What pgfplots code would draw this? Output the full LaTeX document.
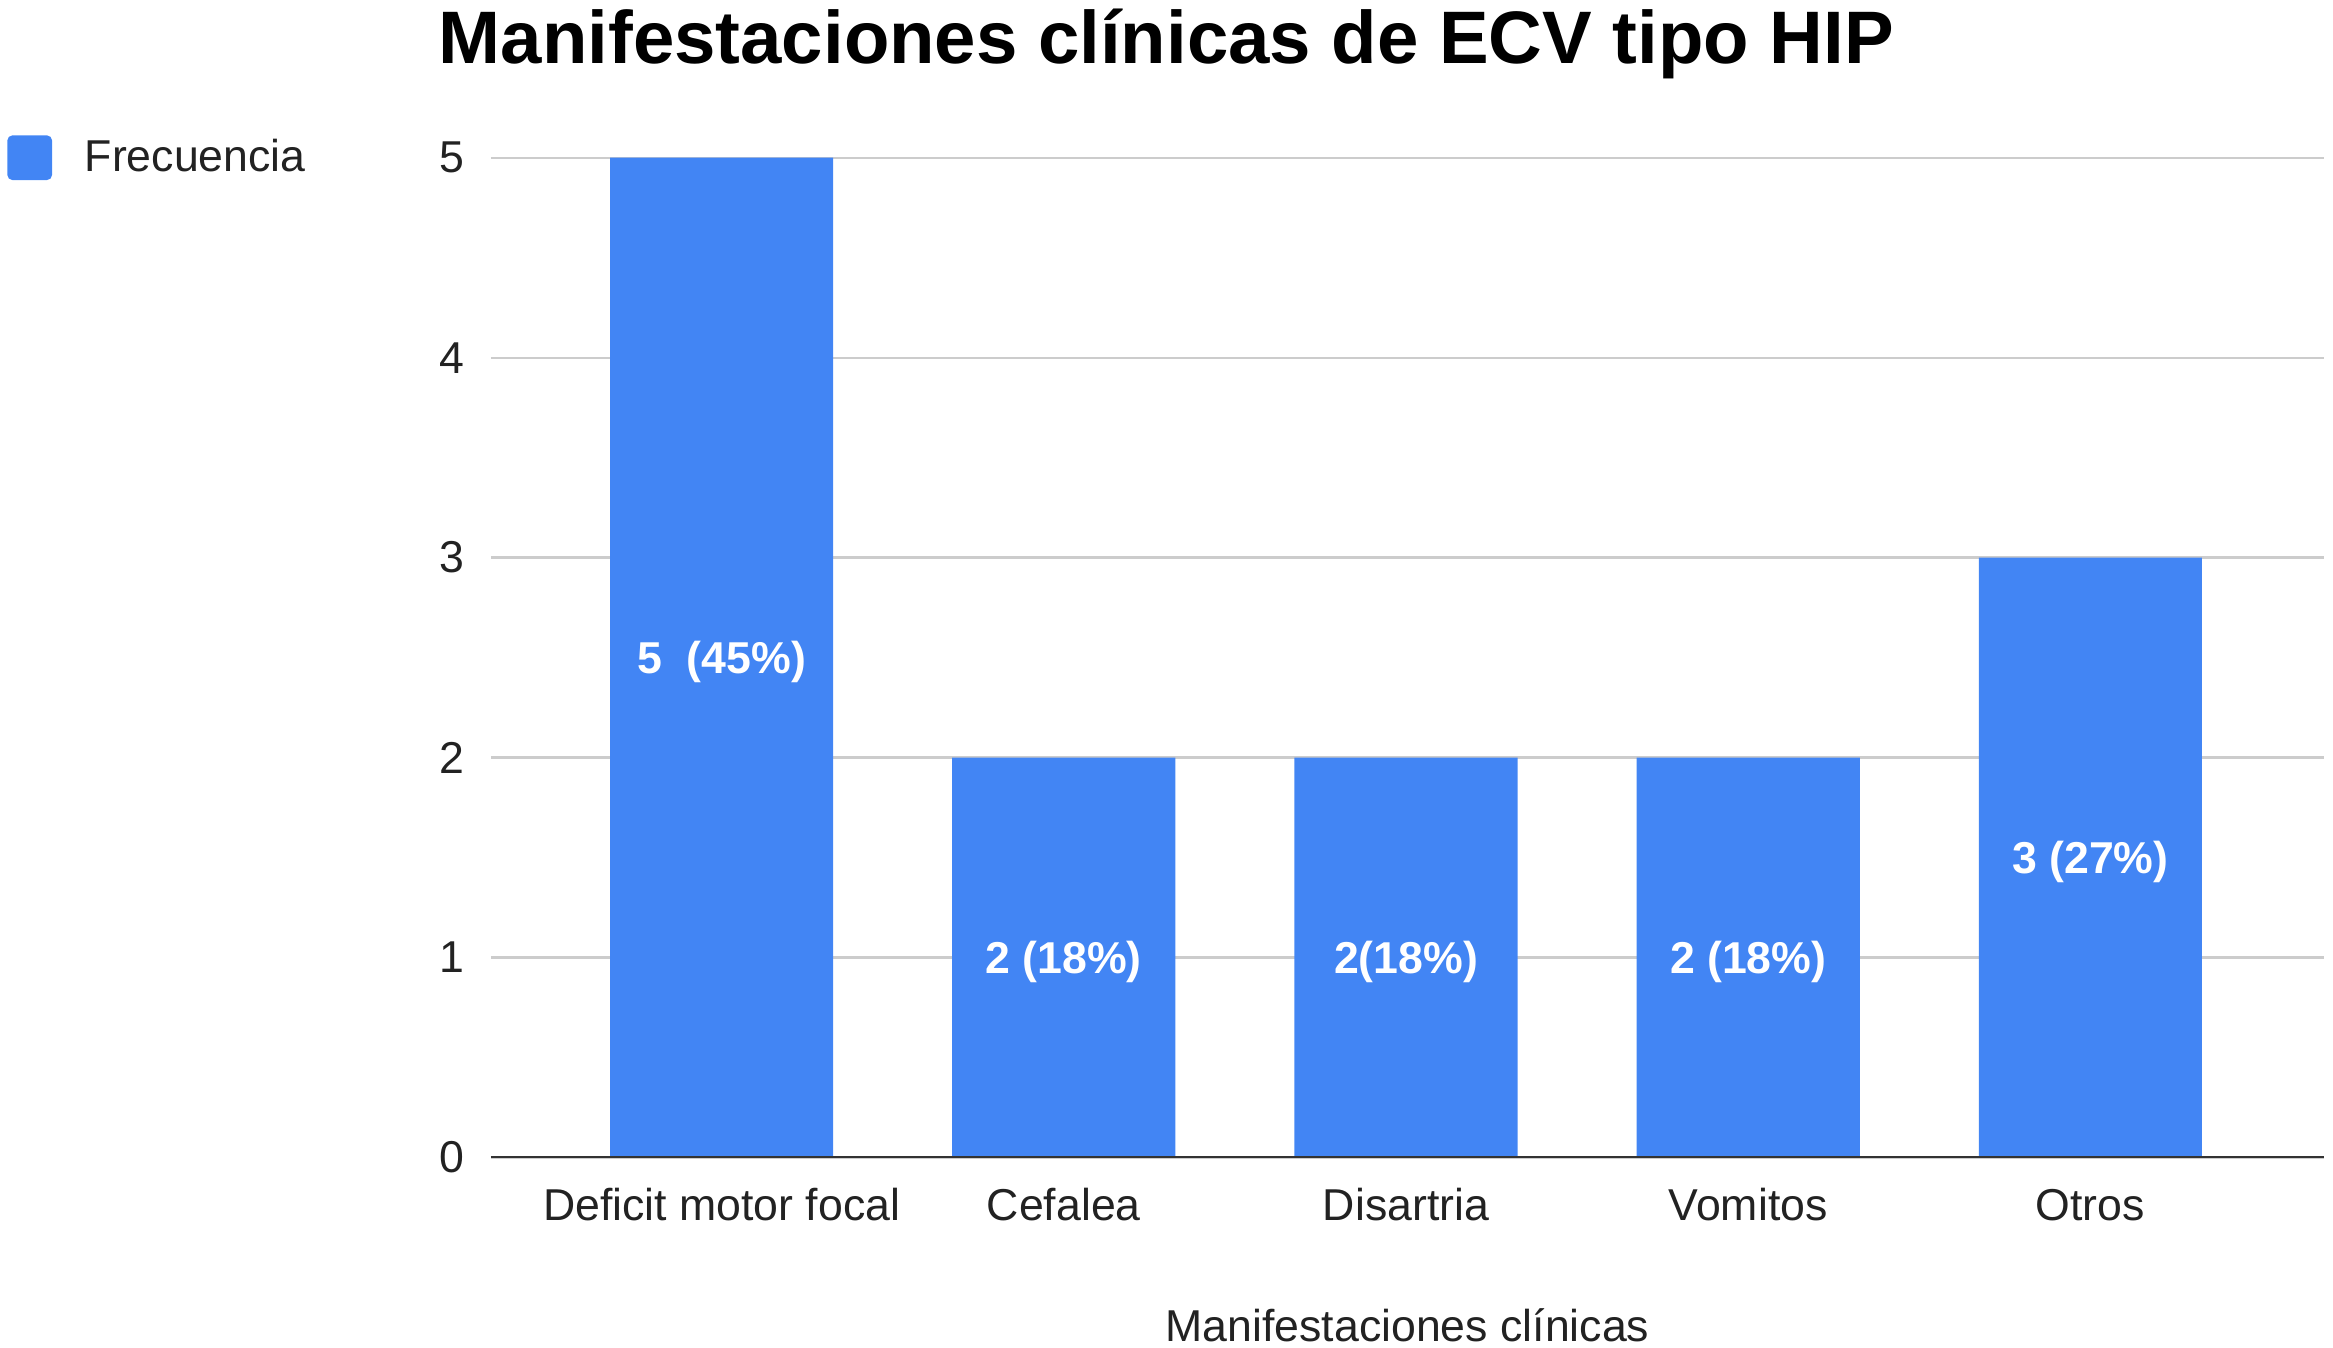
\documentclass[border=0pt]{standalone}
\usepackage{pgfplots}
\pgfplotsset{compat=1.18}
\usepackage{fontspec}
\setmainfont{Liberation Sans}
\definecolor{barblue}{HTML}{4285F4}
\definecolor{gridgray}{HTML}{CCCCCC}
\definecolor{axisdark}{HTML}{333333}
\definecolor{txt}{HTML}{222222}
\begin{document}
\begin{tikzpicture}
\begin{axis}[
  x=103.5pt, y=60.48pt,
  xmin=-0.674, xmax=4.683, ymin=0, ymax=5,
  axis line style={draw=none},
  ybar, bar width=67.5pt,
  xtick={0,1,2,3,4},
  xticklabels={Deficit motor focal, Cefalea, Disartria, Vomitos, Otros},
  ytick={0,1,2,3,4,5},
  major tick length=0pt,
  tick style={draw=none},
  ymajorgrids, grid style={gridgray, line width=0.7pt},
  /pgf/number format/assume math mode=true,
  tick label style={font=\fontsize{13.5}{16}\selectfont, text=txt, inner sep=0pt},
  yticklabel style={anchor=east, xshift=-8pt},
  xticklabel style={anchor=base, yshift=-19pt},
  xlabel={Manifestaciones clínicas},
  xlabel style={at={(axis description cs:0.5,0)}, anchor=base, yshift=-55.8pt, font=\fontsize{13.5}{16}\selectfont, text=txt, inner sep=0pt},
  every axis title shift=0pt,
  title={Manifestaciones clínicas de ECV tipo HIP},
  title style={at={(axis description cs:0.3685,1)}, anchor=base, yshift=28.35pt, font=\fontsize{22.5}{27}\selectfont\bfseries, inner sep=0pt},
  nodes near coords,
  point meta=explicit symbolic,
  visualization depends on={rawy \as \rawy},
  every node near coord/.append style={anchor=center, yshift={-\rawy*30.24pt-1.3pt}, font=\fontsize{13.5}{16}\selectfont\bfseries, text=white, inner sep=0pt},
  legend entries={Frecuencia},
  legend image code/.code={\fill[barblue, rounded corners=1.5pt] (0pt,-6.75pt) rectangle (13.5pt,6.75pt);},
  legend style={at={(axis description cs:-0.2638,1)}, anchor=west, draw=none, fill=none, inner sep=0pt, outer sep=0pt, column sep=9.9pt, nodes={inner sep=0pt}, font=\fontsize{13.5}{16}\selectfont, text=txt},
]
\addplot[draw=none, fill=barblue] coordinates {
  (0,5) [{5\ \ (45\%)}]
  (1,2) [{2 (18\%)}]
  (2,2) [{2(18\%)}]
  (3,2) [{2 (18\%)}]
  (4,3) [{3 (27\%)}]
};
\draw[axisdark, line width=1pt] (rel axis cs:0,0) -- (rel axis cs:1,0);
\coordinate (bl) at (rel axis cs:0,0);
\coordinate (tr) at (rel axis cs:1,1);
\end{axis}
\pgfresetboundingbox
\path ([shift={(-148.5pt,-57.6pt)}]bl) rectangle ([shift={(2.7pt,47.7pt)}]tr);
\end{tikzpicture}
\end{document}
